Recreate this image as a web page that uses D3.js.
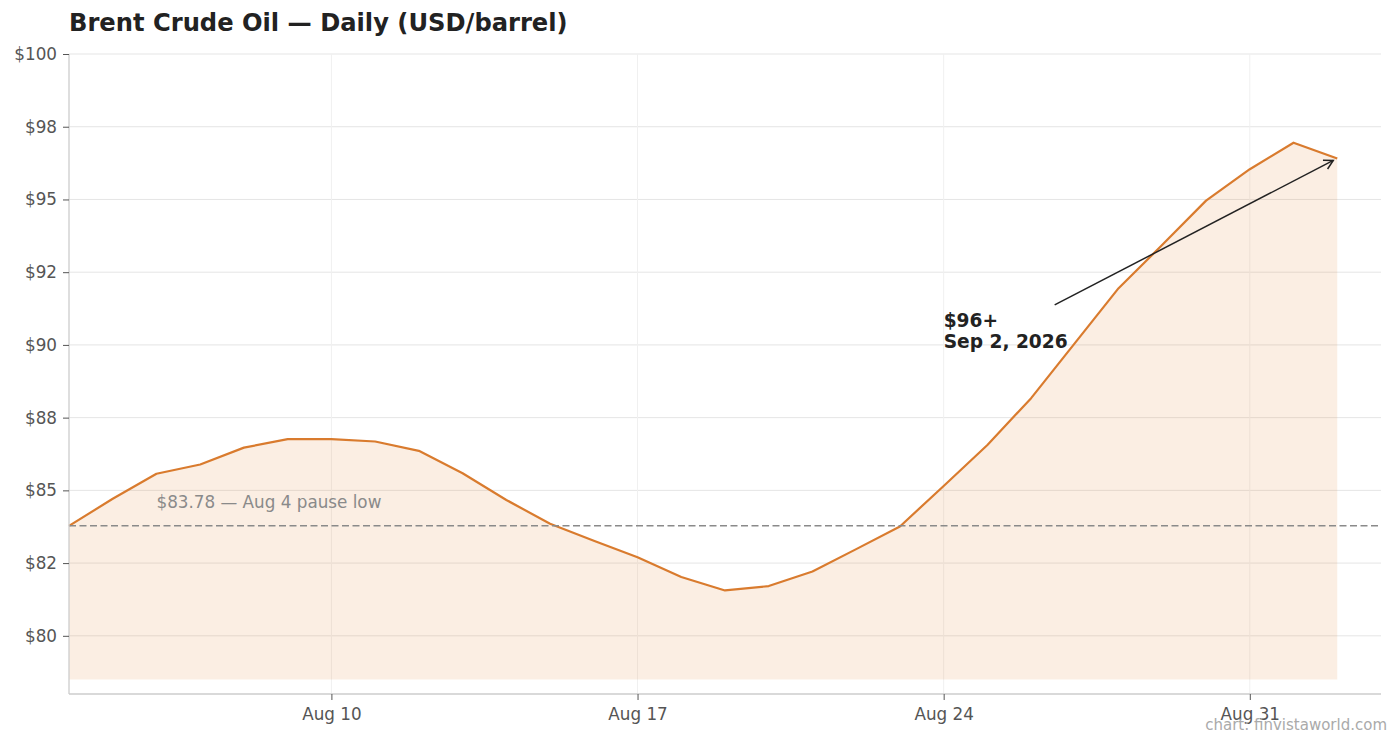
<!DOCTYPE html>
<html>
<head>
<meta charset="utf-8">
<script src="https://cdn.jsdelivr.net/npm/d3@7"></script>
<style>
  html, body { margin: 0; padding: 0; background: #fff; }
  svg { display: block; font-family: "DejaVu Sans", sans-serif; }
</style>
</head>
<body>
<script>
    'use strict';

    // daily Brent closes, Aug 4 -> Sep 2 2026
    var dates = [
        '2026-08-04', '2026-08-05', '2026-08-06', '2026-08-07', '2026-08-08',
        '2026-08-09', '2026-08-10', '2026-08-11', '2026-08-12', '2026-08-13',
        '2026-08-14', '2026-08-15', '2026-08-16', '2026-08-17', '2026-08-18',
        '2026-08-19', '2026-08-20', '2026-08-21', '2026-08-22', '2026-08-23',
        '2026-08-24', '2026-08-25', '2026-08-26', '2026-08-27', '2026-08-28',
        '2026-08-29', '2026-08-30', '2026-08-31', '2026-09-01', '2026-09-02'
    ];
    var prices = [
        83.78, 84.71, 85.57, 85.89, 86.47,
        86.76, 86.76, 86.68, 86.36, 85.59,
        84.67, 83.85, 83.27, 82.70, 82.02,
        81.56, 81.71, 82.21, 82.98, 83.76,
        85.15, 86.56, 88.17, 90.06, 91.95,
        93.44, 94.96, 96.04, 96.95, 96.41
    ];

    var yTicks = [80, 82.5, 85, 87.5, 90, 92.5, 95, 97.5, 100];
    var yTickLabels = ['$80', '$82', '$85', '$88', '$90', '$92', '$95', '$98', '$100'];
    var xTicks = ['2026-08-10', '2026-08-17', '2026-08-24', '2026-08-31'];
    var xTickLabels = ['Aug 10', 'Aug 17', 'Aug 24', 'Aug 31'];

    var pauseLow = 83.78;
    var fillBase = 78.5;

    var width = 1400;
    var height = 745;
    var parse = d3.utcParse('%Y-%m-%d');

    var data = dates.map(function(d, i) { return {date: parse(d), value: prices[i]}; });

    var x = d3.scaleUtc()
        .domain([parse('2026-08-04'), parse('2026-09-03')])
        .range([69, 1381]);
    var y = d3.scaleLinear()
        .domain([78, 100])
        .range([694, 54]);

    var svg = d3.select('body').append('svg')
        .attr('width', width)
        .attr('height', height);

    // grid
    svg.append('g').selectAll('line')
        .data(yTicks)
        .enter().append('line')
        .attr('x1', x.range()[0]).attr('x2', x.range()[1])
        .attr('y1', function(d) { return y(d); })
        .attr('y2', function(d) { return y(d); })
        .attr('stroke', '#e5e5e5')
        .attr('stroke-width', 1);

    svg.append('g').selectAll('line')
        .data(xTicks)
        .enter().append('line')
        .attr('x1', function(d) { return x(parse(d)); })
        .attr('x2', function(d) { return x(parse(d)); })
        .attr('y1', y.range()[1]).attr('y2', y.range()[0])
        .attr('stroke', '#f0f0f0')
        .attr('stroke-width', 1);

    // area + line
    var area = d3.area()
        .x(function(d) { return x(d.date); })
        .y0(y(fillBase))
        .y1(function(d) { return y(d.value); });

    svg.append('path')
        .datum(data)
        .attr('d', area)
        .attr('fill', '#e07a26')
        .attr('fill-opacity', 0.13);

    var line = d3.line()
        .x(function(d) { return x(d.date); })
        .y(function(d) { return y(d.value); });

    svg.append('path')
        .datum(data)
        .attr('d', line)
        .attr('fill', 'none')
        .attr('stroke', '#d97b2e')
        .attr('stroke-width', 2.2)
        .attr('stroke-linejoin', 'round');

    // pause low reference
    svg.append('line')
        .attr('x1', x.range()[0]).attr('x2', x.range()[1])
        .attr('y1', y(pauseLow)).attr('y2', y(pauseLow))
        .attr('stroke', '#8a8a8a')
        .attr('stroke-width', 1.5)
        .attr('stroke-dasharray', '7,3.5');

    svg.append('text')
        .attr('x', x(parse('2026-08-06')))
        .attr('y', y(pauseLow) - 18)
        .attr('font-size', 16.8)
        .attr('fill', '#8a8a8a')
        .text('$' + pauseLow.toFixed(2) + ' — Aug 4 pause low');

    // axes
    var yAxis = d3.axisLeft(y)
        .tickValues(yTicks)
        .tickFormat(function(d, i) { return yTickLabels[i]; })
        .tickSize(6)
        .tickPadding(6);

    var gy = svg.append('g')
        .attr('transform', 'translate(' + x.range()[0] + ',0)')
        .call(yAxis);

    var xAxis = d3.axisBottom(x)
        .tickValues(xTicks.map(parse))
        .tickFormat(function(d, i) { return xTickLabels[i]; })
        .tickSize(6)
        .tickPadding(8);

    var gx = svg.append('g')
        .attr('transform', 'translate(0,' + y.range()[0] + ')')
        .call(xAxis);

    [gx, gy].forEach(function(g) {
        g.select('.domain').attr('stroke', '#cccccc').attr('stroke-width', 1.3);
        g.selectAll('.tick line').attr('stroke', '#555');
        g.selectAll('.tick text')
            .attr('fill', '#555')
            .attr('font-size', 16.8)
            .attr('font-family', '"DejaVu Sans", sans-serif');
    });
    gy.select('.domain').attr('d', 'M0,' + y.range()[0] + 'V' + y.range()[1]);
    gx.select('.domain').attr('d', 'M' + x.range()[0] + ',0H' + x.range()[1]);

    // $96+ annotation with arrow
    var defs = svg.append('defs');
    defs.append('marker')
        .attr('id', 'arrowhead')
        .attr('viewBox', '0 0 12 12')
        .attr('refX', 10).attr('refY', 6)
        .attr('markerWidth', 12).attr('markerHeight', 12)
        .attr('markerUnits', 'userSpaceOnUse')
        .attr('orient', 'auto')
        .append('path')
        .attr('d', 'M1,1 L10,6 L1,11')
        .attr('fill', 'none')
        .attr('stroke', '#222')
        .attr('stroke-width', 1.5);

    var last = data[data.length - 1];
    var tipX = x(last.date) - 4;
    var tipY = y(last.value) + 2;
    var labelX = x(parse('2026-08-24'));
    var labelY = y(90) + 3;

    svg.append('line')
        .attr('x1', labelX + 111).attr('y1', labelY - 43)
        .attr('x2', tipX).attr('y2', tipY)
        .attr('stroke', '#222')
        .attr('stroke-width', 1.5)
        .attr('marker-end', 'url(#arrowhead)');

    var note = svg.append('text')
        .attr('x', labelX)
        .attr('y', labelY)
        .attr('font-size', 18.6)
        .attr('font-weight', 'bold')
        .attr('fill', '#222');
    note.append('tspan').attr('x', labelX).attr('dy', -21).text('$96+');
    note.append('tspan').attr('x', labelX).attr('dy', 21).text('Sep 2, 2026');

    // title + credit
    svg.append('text')
        .attr('x', 69)
        .attr('y', 31)
        .attr('font-size', 24.2)
        .attr('font-weight', 'bold')
        .attr('fill', '#222')
        .text('Brent Crude Oil — Daily (USD/barrel)');

    svg.append('text')
        .attr('x', 1387)
        .attr('y', 730)
        .attr('text-anchor', 'end')
        .attr('font-size', 15)
        .attr('fill', '#aaa')
        .text('chart: finvistaworld.com');
</script>
</body>
</html>
